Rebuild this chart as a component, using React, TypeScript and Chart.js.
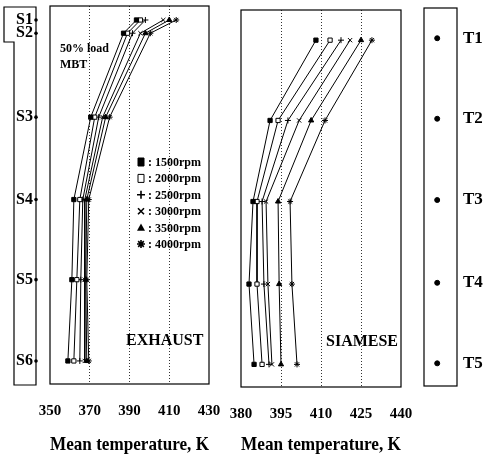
import React, { useEffect, useRef } from "react";
import { Chart, registerables } from "chart.js";
Chart.register(...registerables);

const FONT = '"Liberation Serif", "Times New Roman", serif';

const rpmLabels = ["1500rpm", "2000rpm", "2500rpm", "3000rpm", "3500rpm", "4000rpm"];
const pointStyles = ["rect", "rect", "cross", "crossRot", "triangle", "star"];
const pointFills = ["#000", "#fff", "#000", "#000", "#000", "#000"];

const sLabels = ["S1", "S2", "S3", "S4", "S5", "S6"];
const sPos = [3.7, 7.2, 29.4, 51.2, 72.4, 93.9];
const tLabels = ["T1", "T2", "T3", "T4", "T5"];
const tPos = [8, 29.3, 50.8, 72.7, 94];

const exhaust1500 = [393.5, 387, 370.5, 362, 361, 359];
const exhaust2000 = [395.5, 389, 372.5, 365, 363.5, 362];
const exhaust2500 = [398, 391.5, 374.5, 366.5, 365.5, 365];
const exhaust3000 = [407, 395.5, 376.5, 367.5, 367.5, 367.5];
const exhaust3500 = [410, 398, 378, 368.5, 368, 368.5];
const exhaust4000 = [413.5, 400.5, 380, 369.5, 368.5, 369.5];

const siamese1500 = [408.1, 390.9, 384.5, 383, 384.9];
const siamese2000 = [413.4, 393.9, 386, 386, 387.9];
const siamese2500 = [417.5, 397.6, 387.9, 388.6, 390.5];
const siamese3000 = [420.9, 401.8, 389.4, 390.1, 391.6];
const siamese3500 = [425, 406.3, 393.9, 394.3, 395];
const siamese4000 = [429.1, 411.5, 398.4, 399.1, 401];

const exhaustTicks = [350, 370, 390, 410, 430];
const siameseTicks = [380, 395, 410, 425, 440];
const tStripX = 0.4;

const exhaustSeries = [exhaust1500, exhaust2000, exhaust2500, exhaust3000, exhaust3500, exhaust4000];
const siameseSeries = [siamese1500, siamese2000, siamese2500, siamese3000, siamese3500, siamese4000];

function makeDatasets(series: number[][], pos: number[]) {
  return series.map((vals, i) => ({
    label: rpmLabels[i],
    data: vals.map((v, j) => ({ x: v, y: pos[j] })),
    showLine: true,
    borderColor: "#000",
    borderWidth: 1,
    pointStyle: pointStyles[i],
    pointRadius: 3,
    pointBackgroundColor: pointFills[i],
    pointBorderColor: "#000",
    pointBorderWidth: 1,
  }));
}

function xScale(min: number, max: number, ticks: number[], height: number) {
  return {
    type: "linear",
    min,
    max,
    position: "bottom",
    afterBuildTicks: (s: any) => {
      s.ticks = ticks.map((v) => ({ value: v }));
    },
    afterFit: (s: any) => {
      s.height = height;
      s.paddingLeft = 0;
      s.paddingRight = 0;
    },
    grid: {
      drawTicks: false,
      color: (ctx: any) =>
        ctx.tick && (ctx.tick.value === min || ctx.tick.value === max) ? "rgba(0,0,0,0)" : "#333",
      lineWidth: 1,
    },
    border: { display: false, dash: [1, 2] },
    ticks: {
      autoSkip: false,
      maxRotation: 0,
      padding: 18,
      color: "#000",
      font: { family: FONT, weight: "bold", size: 15 },
    },
    title: {
      display: true,
      text: "Mean temperature, K",
      color: "#000",
      font: { family: FONT, weight: "bold", size: 19 },
      padding: { top: 0, bottom: 3 },
    },
  };
}

const boxPlugin = {
  id: "box",
  afterDraw(chart: any) {
    const { ctx, chartArea: a } = chart;
    ctx.save();
    ctx.strokeStyle = "#000";
    ctx.lineWidth = 1.2;
    ctx.strokeRect(a.left, a.top, a.right - a.left, a.bottom - a.top);
    ctx.restore();
  },
};

function drawPt(ctx: any, style: string, x: number, y: number, r: number) {
  ctx.beginPath();
  if (style === "rect") {
    ctx.rect(x - r * 0.75, y - r, r * 1.5, r * 2);
    ctx.fill();
    ctx.stroke();
  } else if (style === "cross") {
    ctx.moveTo(x - r, y);
    ctx.lineTo(x + r, y);
    ctx.moveTo(x, y - r);
    ctx.lineTo(x, y + r);
    ctx.lineWidth = 1.6;
    ctx.stroke();
  } else if (style === "crossRot") {
    const d = r * 0.75;
    ctx.moveTo(x - d, y - d);
    ctx.lineTo(x + d, y + d);
    ctx.moveTo(x + d, y - d);
    ctx.lineTo(x - d, y + d);
    ctx.lineWidth = 1.6;
    ctx.stroke();
  } else if (style === "triangle") {
    ctx.moveTo(x, y - r);
    ctx.lineTo(x + r, y + r * 0.8);
    ctx.lineTo(x - r, y + r * 0.8);
    ctx.closePath();
    ctx.fill();
  } else if (style === "star") {
    ctx.lineWidth = 1.6;
    for (let k = 0; k < 4; k++) {
      const ang = (k * Math.PI) / 4;
      ctx.moveTo(x - Math.cos(ang) * r, y - Math.sin(ang) * r);
      ctx.lineTo(x + Math.cos(ang) * r, y + Math.sin(ang) * r);
    }
    ctx.stroke();
  }
}

function drawLegend(chart: any, x: number, y0: number, dy: number) {
  const { ctx } = chart;
  ctx.save();
  ctx.font = `bold 12px ${FONT}`;
  ctx.textBaseline = "middle";
  ctx.textAlign = "left";
  chart.data.datasets.forEach((ds: any, i: number) => {
    const y = y0 + i * dy;
    ctx.fillStyle = ds.pointBackgroundColor;
    ctx.strokeStyle = "#000";
    ctx.lineWidth = 1;
    drawPt(ctx, ds.pointStyle, x, y, 4);
    ctx.fillStyle = "#000";
    ctx.fillText(": " + ds.label, x + 7, y + 1);
  });
  ctx.restore();
}

const exhaustDecor = {
  id: "exhaustDecor",
  afterDraw(chart: any) {
    const { ctx } = chart;
    const ys = chart.scales.y;
    ctx.save();
    ctx.strokeStyle = "#000";
    ctx.lineWidth = 1.2;
    ctx.beginPath();
    ctx.moveTo(4, 7);
    ctx.lineTo(36, 7);
    ctx.lineTo(36, 385);
    ctx.lineTo(14, 385);
    ctx.lineTo(14, 42);
    ctx.lineTo(4, 42);
    ctx.closePath();
    ctx.stroke();
    ctx.fillStyle = "#000";
    sPos.forEach((p) => {
      ctx.beginPath();
      ctx.arc(36, ys.getPixelForValue(p), 1.8, 0, Math.PI * 2);
      ctx.fill();
    });
    ctx.font = `bold 12px ${FONT}`;
    ctx.textBaseline = "middle";
    ctx.textAlign = "left";
    ctx.fillText("50% load", 60, 49);
    ctx.fillText("MBT", 60, 65);
    ctx.font = `bold 16px ${FONT}`;
    ctx.fillText("EXHAUST", 126, 341);
    ctx.restore();
    drawLegend(chart, 141, 162, 16.4);
  },
};

const siameseDecor = {
  id: "siameseDecor",
  afterDraw(chart: any) {
    const { ctx } = chart;
    ctx.save();
    ctx.fillStyle = "#000";
    ctx.font = `bold 16px ${FONT}`;
    ctx.textBaseline = "middle";
    ctx.textAlign = "left";
    ctx.fillText("SIAMESE", 101, 342);
    ctx.restore();
  },
};

function App() {
  const c1 = useRef<HTMLCanvasElement>(null);
  const c2 = useRef<HTMLCanvasElement>(null);
  const c3 = useRef<HTMLCanvasElement>(null);

  useEffect(() => {
    document.body.style.margin = "0";
    const charts: Chart[] = [];

    charts.push(
      new Chart(c1.current as HTMLCanvasElement, {
        type: "scatter",
        data: { datasets: makeDatasets(exhaustSeries, sPos) as any },
        options: {
          responsive: false,
          animation: false,
          events: [],
          layout: { padding: { top: 6, right: 16, left: 0, bottom: 0 } },
          plugins: { legend: { display: false }, tooltip: { enabled: false } },
          scales: {
            x: xScale(350, 430, exhaustTicks, 75) as any,
            y: {
              type: "linear",
              min: 0,
              max: 100,
              reverse: true,
              afterBuildTicks: (s: any) => {
                s.ticks = sPos.map((v) => ({ value: v }));
              },
              afterFit: (s: any) => {
                s.width = 50;
                s.paddingTop = 0;
                s.paddingBottom = 0;
              },
              grid: { display: false, drawTicks: false },
              border: { display: false },
              ticks: {
                autoSkip: false,
                padding: 17,
                color: "#000",
                font: { family: FONT, weight: "bold", size: 16 },
                callback: (_v: any, i: number) => sLabels[i],
              },
            } as any,
          },
        },
        plugins: [boxPlugin, exhaustDecor],
      })
    );

    charts.push(
      new Chart(c2.current as HTMLCanvasElement, {
        type: "scatter",
        data: { datasets: makeDatasets(siameseSeries, tPos) as any },
        options: {
          responsive: false,
          animation: false,
          events: [],
          layout: { padding: { top: 10, right: 14, left: 16, bottom: 0 } },
          plugins: { legend: { display: false }, tooltip: { enabled: false } },
          scales: {
            x: xScale(380, 440, siameseTicks, 72) as any,
            y: { type: "linear", min: 0, max: 100, reverse: true, display: false } as any,
          },
        },
        plugins: [boxPlugin, siameseDecor],
      })
    );

    charts.push(
      new Chart(c3.current as HTMLCanvasElement, {
        type: "scatter",
        data: {
          datasets: [
            {
              label: "thermocouples",
              data: tPos.map((p) => ({ x: tStripX, y: p })),
              pointRadius: 2.5,
              pointBackgroundColor: "#000",
              pointBorderColor: "#000",
            },
          ] as any,
        },
        options: {
          responsive: false,
          animation: false,
          events: [],
          layout: { padding: { top: 8, right: 0, left: 9, bottom: 73 } },
          plugins: { legend: { display: false }, tooltip: { enabled: false } },
          scales: {
            x: { type: "linear", min: 0, max: 1, display: false } as any,
            y: {
              type: "linear",
              position: "right",
              min: 0,
              max: 100,
              reverse: true,
              afterBuildTicks: (s: any) => {
                s.ticks = tPos.map((v) => ({ value: v }));
              },
              afterFit: (s: any) => {
                s.width = 30;
                s.paddingTop = 0;
                s.paddingBottom = 0;
              },
              grid: { display: false, drawTicks: false },
              border: { display: false },
              ticks: {
                autoSkip: false,
                padding: 6,
                color: "#000",
                font: { family: FONT, weight: "bold", size: 17 },
                callback: (_v: any, i: number) => tLabels[i],
              },
            } as any,
          },
        },
        plugins: [boxPlugin],
      })
    );

    return () => charts.forEach((c) => c.destroy());
  }, []);

  return (
    <div style={{ position: "absolute", left: 0, top: 0, width: 487, height: 459, background: "#fff" }}>
      <canvas ref={c1} width={225} height={459} style={{ position: "absolute", left: 0, top: 0 }} />
      <canvas ref={c2} width={190} height={459} style={{ position: "absolute", left: 225, top: 0 }} />
      <canvas ref={c3} width={72} height={459} style={{ position: "absolute", left: 415, top: 0 }} />
    </div>
  );
}

export default App;
